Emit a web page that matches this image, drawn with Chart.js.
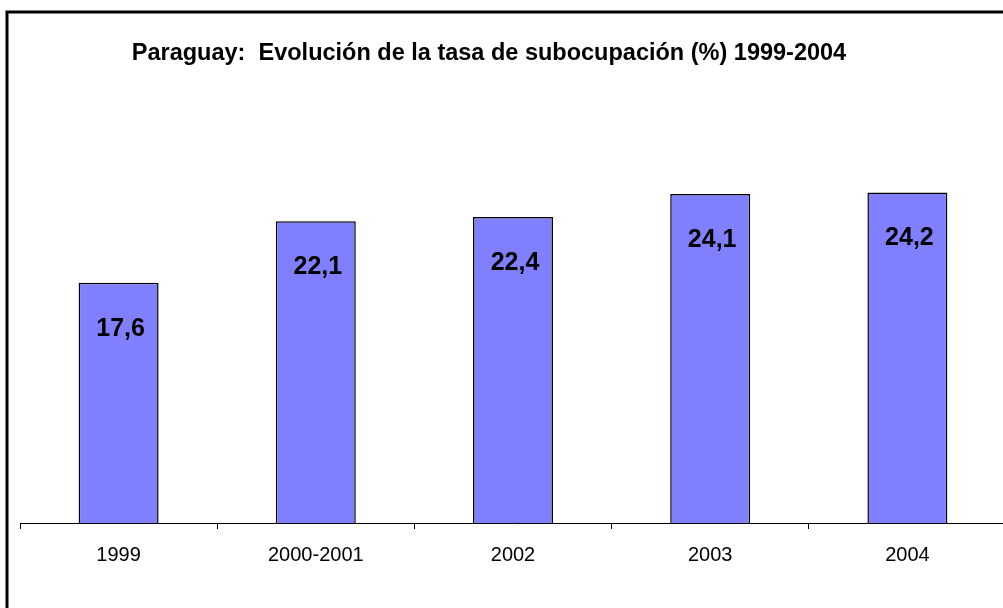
<!DOCTYPE html>
<html>
<head>
<meta charset="utf-8">
<script src="https://cdn.jsdelivr.net/npm/chart.js@4"></script>
<style>
  html, body { margin: 0; padding: 0; background: #fff; overflow: hidden; width: 1003px; height: 608px; }
  #wrap { position: absolute; left: 0; top: 0; width: 1010px; height: 608px; }
  canvas { display: block; }
</style>
</head>
<body>
<div id="wrap"><canvas id="c" width="1010" height="608"></canvas></div>
<script>
const titleText = 'Paraguay:  Evolución de la tasa de subocupación (%) 1999-2004';
const categories = ['1999', '2000-2001', '2002', '2003', '2004'];
const values = [17.6, 22.1, 22.4, 24.1, 24.2];

const frameAndTitle = {
  id: 'frameAndTitle',
  afterDraw(chart) {
    const ctx = chart.ctx;
    ctx.save();
    ctx.strokeStyle = '#000';
    ctx.lineWidth = 3;
    ctx.strokeRect(7, 12, 1100, 700);
    ctx.fillStyle = '#000';
    ctx.font = 'bold 23.5px "Liberation Sans", Arial, sans-serif';
    ctx.textAlign = 'center';
    ctx.textBaseline = 'middle';
    ctx.fillText(titleText, 489, 54);
    // value labels
    ctx.font = 'bold 25px "Liberation Sans", Arial, sans-serif';
    const meta = chart.getDatasetMeta(0);
    meta.data.forEach((bar, i) => {
      const txt = values[i].toFixed(1).replace('.', ',');
      ctx.fillText(txt, bar.x + 2, bar.y + 46);
    });
    ctx.restore();
  }
};

new Chart(document.getElementById('c'), {
  type: 'bar',
  data: {
    labels: categories,
    datasets: [{
      data: values,
      backgroundColor: '#8080FF',
      borderColor: '#000',
      borderWidth: 1.5,
      borderSkipped: 'bottom',
      categoryPercentage: 1,
      barPercentage: 0.4056
    }]
  },
  options: {
    responsive: false,
    animation: false,
    devicePixelRatio: 1,
    layout: { padding: { left: 20, right: 4, top: 86, bottom: 0 } },
    plugins: { legend: { display: false }, title: { display: false }, tooltip: { enabled: false } },
    scales: {
      x: {
        offset: true,
        grid: { display: true, drawOnChartArea: false, drawTicks: true, tickLength: 6, color: '#000', offset: true },
        border: { display: true, color: '#000', width: 1 },
        ticks: { color: '#000', padding: 14, font: { family: '"Liberation Sans", Arial, sans-serif', size: 20 }, maxRotation: 0, autoSkip: false },
        afterFit(scale) { scale.height = 85; }
      },
      y: {
        display: false,
        min: 0,
        max: 32
      }
    }
  },
  plugins: [frameAndTitle]
});
</script>
</body>
</html>
